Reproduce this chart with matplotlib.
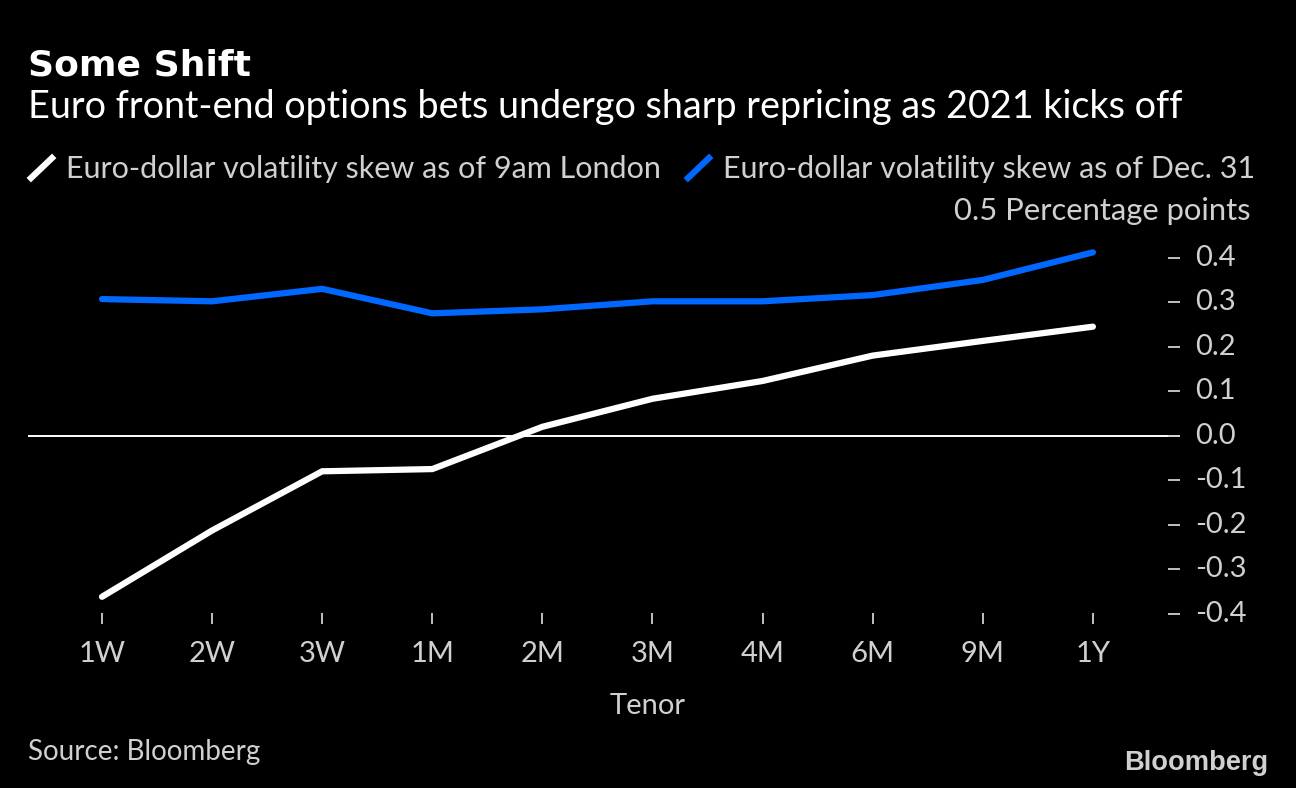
import matplotlib
matplotlib.use('Agg')
from matplotlib import pyplot as plt
from matplotlib.lines import Line2D

tenors = ['1W', '2W', '3W', '1M', '2M', '3M', '4M', '6M', '9M', '1Y']
skew_london = [-0.362, -0.213, -0.08, -0.075, 0.02, 0.083, 0.123, 0.18, 0.213, 0.245]
skew_dec31 = [0.307, 0.302, 0.33, 0.275, 0.284, 0.302, 0.302, 0.316, 0.35, 0.412]
y_ticks = [0.4, 0.3, 0.2, 0.1, 0.0, -0.1, -0.2, -0.3, -0.4]

W, H = 1296, 788
BLUE = '#0068ff'
GREY = '#d0d0d0'

plt.rcParams['font.family'] = ['Lato', 'DejaVu Sans']

fig = plt.figure(figsize=(W/100, H/100), dpi=100, facecolor='black')


def px(x, y):
    return x / W, 1 - y / H


# y: 0.0 at 435.7px, 0.1 per 44.5px / x: 1W at 102px, 110.1px per tenor
y_top, y_bot = 234, 624
x_left, x_right = 28, 1180
ax = fig.add_axes([x_left/W, 1 - y_bot/H, (x_right-x_left)/W, (y_bot-y_top)/H], facecolor='black')
ax.set_xlim((x_left-102)/110.1, (x_right-102)/110.1)
ax.set_ylim((435.7-y_bot)/445, (435.7-y_top)/445)

ax.axhline(0, color='white', lw=1.4, zorder=1)
ax.plot(range(len(tenors)), skew_london, color='white', lw=4.5, zorder=3,
        solid_joinstyle='miter', solid_capstyle='round')
ax.plot(range(len(tenors)), skew_dec31, color=BLUE, lw=4.5, zorder=3,
        solid_joinstyle='miter', solid_capstyle='round')

for s in ax.spines.values():
    s.set_visible(False)

ax.set_xticks(range(len(tenors)))
ax.set_xticklabels(tenors)
ax.tick_params(axis='x', direction='in', colors=GREY, length=8, width=1.3, pad=12.5, labelsize=21)
ax.yaxis.tick_right()
ax.set_yticks(y_ticks)
ax.set_yticklabels(['%.1f' % v for v in y_ticks], va='center')
ax.tick_params(axis='y', direction='in', colors=GREY, length=9, width=1.3, pad=11, labelsize=21)

x, y = px(648, 706)
fig.text(x, y, 'Tenor', color=GREY, fontsize=21, ha='center', va='center')

x, y = px(28, 65)
fig.text(x, y, 'Some Shift', color='white', fontsize=26, fontweight='bold', va='center',
         family=['DejaVu Sans'])
x, y = px(28, 107)
fig.text(x, y, 'Euro front-end options bets undergo sharp repricing as 2021 kicks off',
         color='white', fontsize=27.2, va='center')

# legend
for x0, label, c in [(30, 'Euro-dollar volatility skew as of 9am London', 'white'),
                     (687, 'Euro-dollar volatility skew as of Dec. 31', BLUE)]:
    x1, y1 = px(x0 + 1, 178)
    x2, y2 = px(x0 + 22, 158)
    fig.add_artist(Line2D([x1, x2], [y1, y2], color=c, lw=4.5))
    x, y = px(x0 + 36, 169)
    fig.text(x, y, label, color=GREY, fontsize=22, va='center')

x, y = px(1251, 211)
fig.text(x, y, '0.5 Percentage points', color=GREY, fontsize=22.3, ha='right', va='center')

x, y = px(28, 752)
fig.text(x, y, 'Source: Bloomberg', color=GREY, fontsize=20, va='center')
x, y = px(1268, 763)
fig.text(x, y, 'Bloomberg', color=GREY, fontsize=19.6, fontweight='bold', ha='right', va='center',
         family=['Liberation Sans', 'DejaVu Sans'])

fig.savefig('out.png', dpi=100, facecolor='black')
